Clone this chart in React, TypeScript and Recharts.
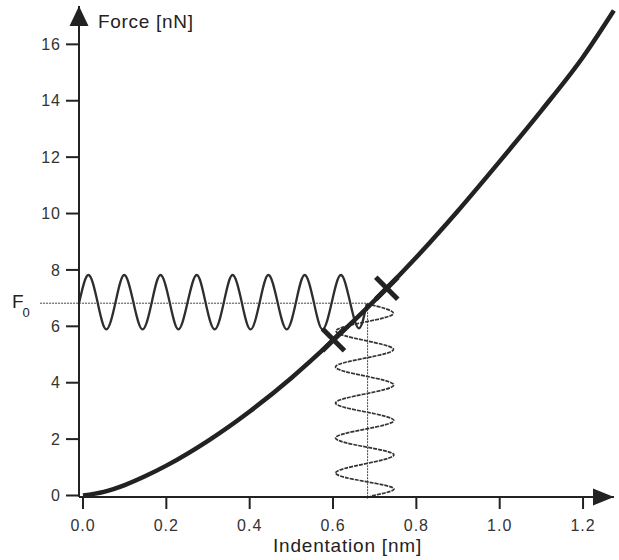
import {
  ComposedChart,
  Line,
  Scatter,
  XAxis,
  YAxis,
  ReferenceLine,
} from 'recharts';

// loading curve (Hertz-like)
const curveIndentation = [0, 0.05, 0.1, 0.15, 0.2, 0.3, 0.4, 0.5, 0.6, 0.7, 0.8, 0.9, 1.0, 1.1, 1.2, 1.274];
const curveForce = [0, 0.13, 0.37, 0.69, 1.06, 1.94, 2.98, 4.17, 5.5, 6.92, 8.45, 10.1, 11.85, 13.65, 15.55, 17.2];

// force modulation (horizontal sine), peaks / mid crossings / troughs
const hWaveIndentation = [
  -0.009, 0.013, 0.035, 0.056, 0.078, 0.099, 0.121, 0.143, 0.165, 0.186, 0.208, 0.229,
  0.251, 0.273, 0.294, 0.316, 0.338, 0.359, 0.381, 0.402, 0.424, 0.445, 0.467, 0.489,
  0.511, 0.532, 0.554, 0.575, 0.597, 0.619, 0.641, 0.662, 0.681,
];
const hWaveForce = [
  6.85, 7.82, 6.85, 5.89, 6.85, 7.82, 6.85, 5.89, 6.85, 7.82, 6.85, 5.89,
  6.85, 7.82, 6.85, 5.89, 6.85, 7.82, 6.85, 5.89, 6.85, 7.82, 6.85, 5.89,
  6.85, 7.82, 6.85, 5.89, 6.85, 7.82, 6.85, 5.93, 6.8,
];

// indentation response (vertical sine)
const vWaveIndentation = [
  0.681, 0.745, 0.676, 0.607, 0.676, 0.745, 0.676, 0.606, 0.676, 0.746, 0.676, 0.606,
  0.676, 0.746, 0.676, 0.606, 0.676, 0.746, 0.676, 0.606, 0.676, 0.746, 0.69,
];
const vWaveForce = [
  6.8, 6.46, 6.15, 5.83, 5.5, 5.18, 4.87, 4.56, 4.24, 3.92, 3.6, 3.28,
  2.97, 2.66, 2.35, 2.04, 1.73, 1.44, 1.12, 0.8, 0.5, 0.24, -0.02,
];

const crossIndentation = [0.601, 0.729];
const crossForce = [5.52, 7.35];

const F0 = 6.82;
const F0_INDENT = 0.683;

const xTicks = [0, 0.2, 0.4, 0.6, 0.8, 1.0, 1.2];
const yTicks = [0, 2, 4, 6, 8, 10, 12, 14, 16];

const X_DOMAIN: [number, number] = [-0.0096, 1.2743];
const Y_DOMAIN: [number, number] = [-0.053, 17.36];

const zip = (xs: number[], ys: number[]) => xs.map((x, i) => ({ x, y: ys[i] }));

const curveData = zip(curveIndentation, curveForce);
const hWaveData = zip(hWaveIndentation, hWaveForce);
const vWaveData = zip(vWaveIndentation, vWaveForce);
const crossData = zip(crossIndentation, crossForce);

const INK = '#222';
const FONT = '"Liberation Sans", Arial, Helvetica, sans-serif';

function CrossShape(props: any) {
  const { cx, cy } = props;
  const d = 11;
  return (
    <g stroke={INK} strokeWidth={5} strokeLinecap="butt">
      <line x1={cx - d} y1={cy - d} x2={cx + d} y2={cy + d} />
      <line x1={cx - d} y1={cy + d} x2={cx + d} y2={cy - d} />
    </g>
  );
}

function UpArrow(props: any) {
  const { cx, cy } = props;
  return <path d={`M${cx},${cy} L${cx + 9.5},${cy + 20} L${cx - 9.5},${cy + 20} Z`} fill={INK} />;
}

function RightArrow(props: any) {
  const { cx, cy } = props;
  return <path d={`M${cx},${cy} L${cx - 21},${cy - 8.5} L${cx - 21},${cy + 8.5} Z`} fill={INK} />;
}

function XLabel() {
  return (
    <text x={347.5} y={551.5} textAnchor="middle" fontSize={19} letterSpacing={0.8} fill={INK} fontFamily={FONT}>
      Indentation [nm]
    </text>
  );
}

function YLabel() {
  return (
    <g fontFamily={FONT} fill={INK}>
      <text x={98} y={28} fontSize={19} letterSpacing={0.7}>
        Force [nN]
      </text>
      <text x={12} y={308} fontSize={19}>F</text>
      <text x={22.5} y={316.5} fontSize={13}>0</text>
    </g>
  );
}

export default function App() {
  return (
    <div style={{ position: 'absolute', left: 0, top: 0, background: '#fff' }}>
      <ComposedChart width={619} height={560} margin={{ top: 6, right: 5, bottom: 0, left: 0 }}>
        <XAxis
          dataKey="x"
          type="number"
          domain={X_DOMAIN}
          ticks={xTicks}
          interval={0}
          tickFormatter={(v: number) => v.toFixed(1)}
          tickSize={12}
          tickMargin={11}
          height={63}
          axisLine={{ stroke: INK, strokeWidth: 2 }}
          tickLine={{ stroke: INK, strokeWidth: 2 }}
          tick={{ fontSize: 16, fill: '#333', fontFamily: FONT, letterSpacing: 1 }}
          label={<XLabel />}
        />
        <YAxis
          type="number"
          domain={Y_DOMAIN}
          ticks={yTicks}
          interval={0}
          width={79}
          tickSize={13}
          tickMargin={5}
          axisLine={{ stroke: INK, strokeWidth: 2 }}
          tickLine={{ stroke: INK, strokeWidth: 2 }}
          tick={{ fontSize: 16, fill: '#333', fontFamily: FONT, letterSpacing: 1 }}
          label={<YLabel />}
        />

        <ReferenceLine
          segment={[{ x: -0.103, y: F0 }, { x: F0_INDENT, y: F0 }]}
          ifOverflow="visible"
          stroke="#444"
          strokeWidth={1}
          strokeDasharray="2 1"
        />
        <ReferenceLine
          segment={[{ x: F0_INDENT, y: F0 }, { x: F0_INDENT, y: -0.12 }]}
          ifOverflow="visible"
          stroke="#444"
          strokeWidth={1}
          strokeDasharray="2 1"
        />

        <Line
          data={vWaveData}
          dataKey="y"
          type="natural"
          stroke="#333"
          strokeWidth={1.7}
          strokeDasharray="4 1"
          dot={false}
          isAnimationActive={false}
        />
        <Line
          data={hWaveData}
          dataKey="y"
          type="natural"
          stroke="#2e2e2e"
          strokeWidth={2.3}
          dot={false}
          isAnimationActive={false}
        />
        <Line
          data={curveData}
          dataKey="y"
          type="monotone"
          stroke={INK}
          strokeWidth={4.5}
          dot={false}
          isAnimationActive={false}
        />
        <Scatter data={crossData} dataKey="y" shape={<CrossShape />} isAnimationActive={false} />
        <Scatter data={[{ x: X_DOMAIN[0], y: Y_DOMAIN[1] }]} dataKey="y" shape={<UpArrow />} isAnimationActive={false} />
        <Scatter data={[{ x: X_DOMAIN[1], y: Y_DOMAIN[0] }]} dataKey="y" shape={<RightArrow />} isAnimationActive={false} />
      </ComposedChart>
    </div>
  );
}
